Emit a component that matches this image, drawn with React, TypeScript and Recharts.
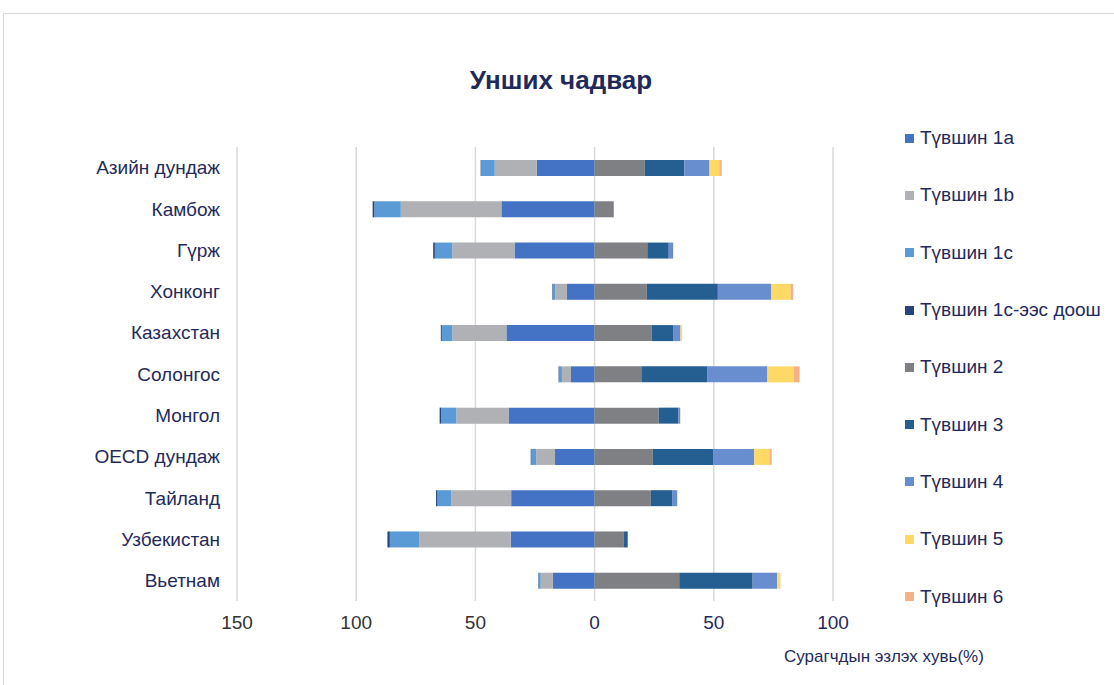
import { BarChart, Bar, XAxis, YAxis, CartesianGrid } from 'recharts';

const categories = [
  'Азийн дундаж',
  'Камбож',
  'Гүрж',
  'Хонконг',
  'Казахстан',
  'Солонгос',
  'Монгол',
  'OECD дундаж',
  'Тайланд',
  'Узбекистан',
  'Вьетнам',
];

// shares below level 2 (drawn to the left of zero)
const level1a = [24.3, 39.1, 33.6, 11.6, 37.0, 9.9, 36.1, 16.6, 35.0, 35.2, 17.5];
const level1b = [17.6, 42.2, 26.1, 4.9, 22.7, 3.8, 21.9, 7.9, 25.1, 38.4, 5.1];
const level1c = [5.6, 11.1, 7.3, 1.1, 4.4, 1.1, 6.3, 2.0, 5.8, 12.3, 0.8];
const belowLevel1c = [0.3, 0.7, 0.7, 0.2, 0.4, 0.3, 0.7, 0.3, 0.6, 1.0, 0.2];

// shares at level 2 and above (drawn to the right of zero)
const level2 = [21.0, 7.8, 22.1, 21.9, 24.0, 19.6, 26.9, 24.4, 23.6, 12.1, 35.5];
const level3 = [16.6, 0.2, 9.0, 29.8, 8.9, 27.8, 8.3, 25.5, 8.9, 1.8, 30.8];
const level4 = [10.6, 0, 1.8, 22.3, 3.1, 25.1, 0.7, 17.1, 2.1, 0.1, 10.2];
const level5 = [4.1, 0, 0.2, 8.2, 0.6, 11.0, 0.1, 6.3, 0.2, 0, 1.3];
const level6 = [1.0, 0, 0, 1.1, 0.1, 2.5, 0, 1.0, 0, 0, 0.1];

const xTicks = [-150, -100, -50, 0, 50, 100];

const data = categories.map((name, i) => ({
  name,
  l1a: -level1a[i],
  l1b: -level1b[i],
  l1c: -level1c[i],
  l1below: -belowLevel1c[i],
  l2: level2[i],
  l3: level3[i],
  l4: level4[i],
  l5: level5[i],
  l6: level6[i],
}));

const SERIES = [
  { key: 'l1a', name: 'Түвшин 1a', color: '#4472C4' },
  { key: 'l1b', name: 'Түвшин 1b', color: '#B0B1B4' },
  { key: 'l1c', name: 'Түвшин 1c', color: '#5B9BD5' },
  { key: 'l1below', name: 'Түвшин 1c-ээс доош', color: '#264478' },
  { key: 'l2', name: 'Түвшин 2', color: '#7F8083' },
  { key: 'l3', name: 'Түвшин 3', color: '#255E91' },
  { key: 'l4', name: 'Түвшин 4', color: '#698ED0' },
  { key: 'l5', name: 'Түвшин 5', color: '#FFD966' },
  { key: 'l6', name: 'Түвшин 6', color: '#F4B183' },
];

const NAVY = '#1F2A5C';
const FONT = '"Liberation Sans", Arial, sans-serif';

const XTick = (props: any) => {
  const { x, y, payload } = props;
  const v = payload.value;
  return (
    <text
      x={x}
      y={y}
      dy="0.71em"
      textAnchor="middle"
      fontSize={19}
      fontFamily={FONT}
      fill={v >= 0 ? NAVY : '#333333'}
    >
      {Math.abs(v)}
    </text>
  );
};

export default function App() {
  return (
    <div style={{ position: 'absolute', left: 0, top: 0, width: 1114, height: 685, overflow: 'hidden', background: '#fff' }}>
      <div
        style={{
          position: 'absolute',
          left: 3,
          top: 13,
          width: 1130,
          height: 700,
          border: '1px solid #D9D9D9',
          boxSizing: 'border-box',
        }}
      />
      <div
        style={{
          position: 'absolute',
          left: 0,
          top: 64,
          width: 1122,
          textAlign: 'center',
          fontFamily: FONT,
          fontWeight: 'bold',
          fontSize: 26,
          lineHeight: '32px',
          color: NAVY,
        }}
      >
        Унших чадвар
      </div>
      <div style={{ position: 'absolute', left: 0, top: 0 }}>
        <BarChart
          width={1114}
          height={685}
          data={data}
          layout="vertical"
          stackOffset="sign"
          barSize={16}
          margin={{ top: 147, right: 281, bottom: 54, left: 0 }}
        >
          <CartesianGrid horizontal={false} stroke="#D9D9D9" strokeWidth={1.5} />
          <XAxis
            type="number"
            domain={[-150, 100]}
            ticks={xTicks}
            axisLine={false}
            tickLine={false}
            tickSize={0}
            tickMargin={15}
            height={30}
            tick={<XTick />}
          />
          <YAxis
            type="category"
            dataKey="name"
            width={237}
            axisLine={false}
            tickLine={false}
            tickSize={0}
            tickMargin={17}
            tick={{ fill: NAVY, fontSize: 19, fontFamily: FONT }}
          />
          {SERIES.map((s) => (
            <Bar
              key={s.key}
              dataKey={s.key}
              name={s.name}
              stackId="levels"
              fill={s.color}
              isAnimationActive={false}
            />
          ))}
        </BarChart>
      </div>
      <div style={{ position: 'absolute', left: 905, top: 109.5, fontFamily: FONT }}>
        {SERIES.map((s) => (
          <div
            key={s.key}
            style={{ height: 57.3, display: 'flex', alignItems: 'center', whiteSpace: 'nowrap' }}
          >
            <span
              style={{ width: 9, height: 9, background: s.color, display: 'inline-block', marginRight: 6 }}
            />
            <span style={{ fontSize: 19, color: NAVY }}>{s.name}</span>
          </div>
        ))}
      </div>
      <div
        style={{
          position: 'absolute',
          left: 784,
          top: 646,
          fontFamily: FONT,
          fontSize: 17,
          lineHeight: '22px',
          color: NAVY,
          whiteSpace: 'nowrap',
        }}
      >
        Сурагчдын эзлэх хувь(%)
      </div>
    </div>
  );
}
